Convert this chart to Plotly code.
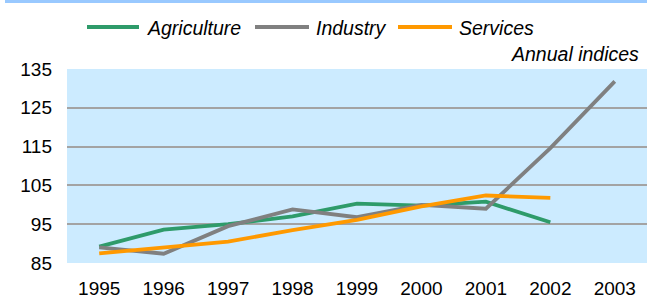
import plotly.graph_objects as go

years = ["1995", "1996", "1997", "1998", "1999", "2000", "2001", "2002", "2003"]
agriculture = [89.2, 93.6, 95.0, 97.0, 100.3, 99.8, 100.8, 95.5, None]
industry = [89.0, 87.4, 94.5, 98.8, 96.8, 100.0, 99.0, 114.6, 131.8]
services = [87.5, 89.0, 90.5, 93.5, 96.1, 99.6, 102.4, 101.8, None]
y_ticks = [85, 95, 105, 115, 125, 135]

series_names = ["Agriculture", "Industry", "Services"]
series_colors = ["#2E9B6A", "#808080", "#FF9900"]

W, H = 647, 302
ML, MR, MT, MB = 67, 0, 69, 39
PW, PH = W - ML - MR, H - MT - MB


def px(x):
    return (x - ML) / PW


def py(y):
    return (H - MB - y) / PH


fig = go.Figure()
for name, vals, col in zip(series_names, [agriculture, industry, services], series_colors):
    fig.add_trace(go.Scatter(x=years, y=vals, name=name, mode="lines",
                             line=dict(color=col, width=3.8), showlegend=False))

# manual legend (line sample + italic label)
legend_line_x = [(87, 139), (255, 309), (398, 452)]
legend_text_x = [145, 314, 457]
shapes = []
annotations = []
for (x0, x1), tx, name, col in zip(legend_line_x, legend_text_x, series_names, series_colors):
    shapes.append(dict(type="line", xref="paper", yref="paper", x0=px(x0), x1=px(x1),
                       y0=py(27), y1=py(27), line=dict(color=col, width=4)))
    annotations.append(dict(text="<i>" + name + "</i>", xref="paper", yref="paper",
                            x=px(tx), y=py(28), xanchor="left", yanchor="middle",
                            showarrow=False, font=dict(size=19.5)))

annotations.append(dict(text="<i>Annual indices</i>", xref="paper", yref="paper",
                        x=px(641), y=py(54), xanchor="right", yanchor="middle",
                        showarrow=False, font=dict(size=19.5)))

# thin blue band at very top
shapes.append(dict(type="rect", xref="paper", yref="paper", x0=px(5), x1=px(647),
                   y0=py(3), y1=py(0), line=dict(width=0), fillcolor="#99C9FF"))

fig.update_layout(
    width=W, height=H,
    margin=dict(l=ML, r=MR, t=MT, b=MB, autoexpand=False),
    paper_bgcolor="white",
    plot_bgcolor="#CCEBFF",
    font=dict(family="Liberation Sans, Arial", size=19, color="#000000"),
    showlegend=False,
    xaxis=dict(type="category", range=[-0.5, 8.5], showgrid=False, zeroline=False,
               showline=False, ticks="", tickfont=dict(size=19), ticklabelstandoff=12,
               automargin=False),
    yaxis=dict(range=[85, 135], tickvals=y_ticks, showgrid=True, gridcolor="#A3A3A3",
               gridwidth=2, zeroline=False, showline=False, ticks="",
               tickfont=dict(size=19), ticklabelstandoff=14, automargin=False),
    annotations=annotations,
    shapes=shapes,
)

fig.write_html("out.html", config={"displayModeBar": False},
               post_script="document.body.style.margin='0';document.body.style.overflow='hidden';")
